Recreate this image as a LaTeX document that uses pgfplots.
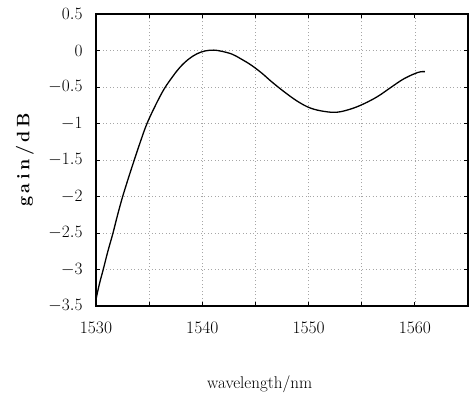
\documentclass[border=0pt]{standalone}
\usepackage{fontspec}
\usepackage{pgfplots}
\pgfplotsset{compat=1.18}
\newcommand{\ls}{\kern3.5pt}
\begin{document}
\begin{tikzpicture}
\begin{axis}[
  scale only axis, width=372pt, height=292pt,
  xmin=1530, xmax=1565, ymin=-3.5, ymax=0.5,
  xtick={1530,1535,...,1560}, xticklabels={1530,,1540,,1550,,1560},
  ytick={-3.5,-3,...,0.5},
  grid=major,
  grid style={dash pattern=on 1pt off 2.5pt, gray!70, line width=0.6pt},
  axis line style={line width=1.1pt},
  tick style={black, line width=0.8pt}, major tick length=4pt, tick align=inside,
  tick label style={font=\fontsize{17.5}{20}\selectfont},
  xticklabel style={yshift=-12pt},
  yticklabel style={xshift=-10pt},
  xlabel={wavelength/nm}, ylabel={g\ls a\ls i\ls n\ls /\ls d\ls B},
  xlabel style={at={(axis description cs:0.44,-0.267)}, anchor=center, font=\fontsize{17}{20}\selectfont},
  ylabel style={at={(axis description cs:-0.191,0.5)}, anchor=center, font=\fontsize{18}{20}\selectfont\bfseries},
]
\addplot[black, line width=1.3pt, smooth, tension=0.6] coordinates {
(1530.0,-3.41) (1530.3,-3.21) (1530.68,-3.0) (1531.1,-2.76) (1531.6,-2.5)
(1532.0,-2.27) (1532.47,-2.02) (1533.0,-1.77) (1533.6,-1.5) (1534.2,-1.24)
(1534.8,-1.0) (1535.6,-0.75) (1536.4,-0.53) (1537.2,-0.36) (1537.9,-0.23)
(1538.7,-0.12) (1539.5,-0.045) (1540.3,-0.005) (1541.1,0.005) (1541.8,-0.01)
(1542.8,-0.05) (1543.7,-0.12) (1544.6,-0.2) (1545.6,-0.31) (1546.5,-0.425)
(1547.7,-0.565) (1549.0,-0.70) (1550.2,-0.79) (1551.5,-0.835) (1552.7,-0.845)
(1554.0,-0.80) (1555.2,-0.73) (1556.5,-0.63) (1557.8,-0.50) (1559.0,-0.385)
(1560.3,-0.30) (1560.95,-0.29)
};
\end{axis}
\path ([shift={(-96pt,-86pt)}]current axis.south west) rectangle ([shift={(1pt,14pt)}]current axis.north east);
\end{tikzpicture}
\end{document}
